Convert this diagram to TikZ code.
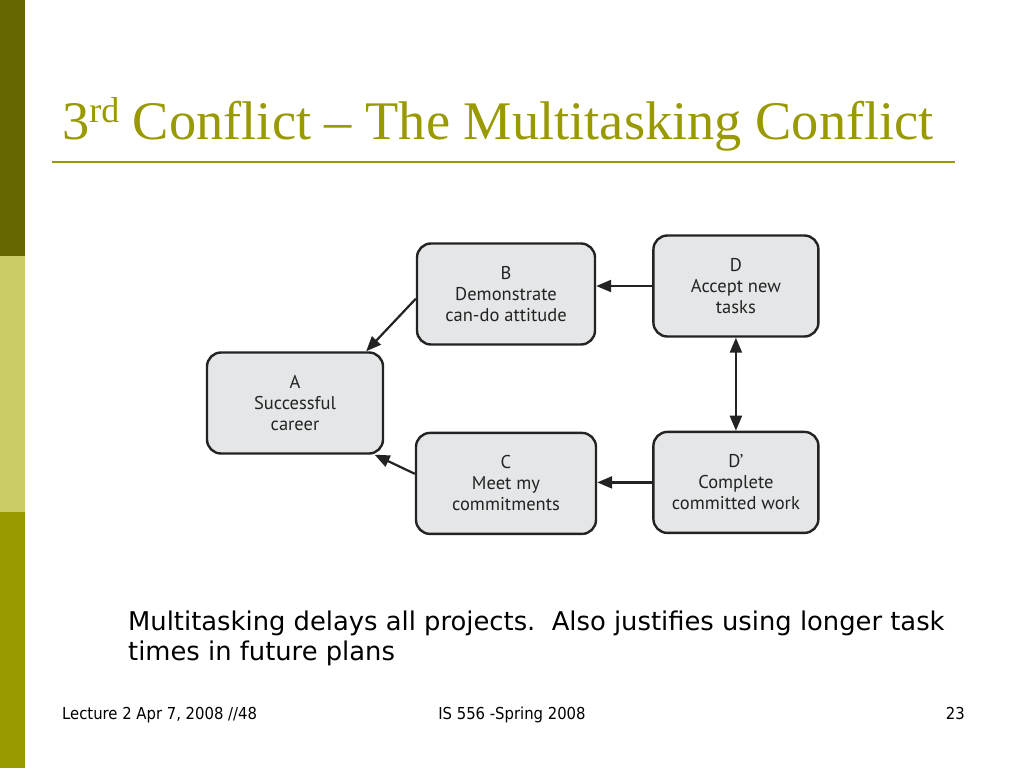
\documentclass[tikz,border=0pt]{standalone}
\usepackage{fontspec}
\setmainfont{Liberation Serif}
\newfontfamily\boxfont{PT Sans}
\newfontfamily\bodyfont{DejaVu Sans}
\newfontfamily\footfont{DejaVu Sans Condensed}
\usetikzlibrary{calc}
\usetikzlibrary{positioning}
\usetikzlibrary{arrows.meta}
\definecolor{bardark}{RGB}{102,102,0}
\definecolor{barlight}{RGB}{204,204,102}
\definecolor{barmid}{RGB}{153,153,0}
\definecolor{titleolive}{RGB}{153,153,0}
\definecolor{boxfill}{RGB}{228,230,231}
\definecolor{boxedge}{RGB}{35,35,35}
\definecolor{boxtext}{RGB}{35,35,35}

\begin{document}
\begin{tikzpicture}[x=1pt,y=-1pt,
    every node/.style={inner sep=0pt},
    box/.style={draw=boxedge, fill=boxfill, line width=2.4pt, rounded corners=14pt,
      minimum height=101pt, align=center, text=boxtext,
      font=\boxfont\fontsize{18.5}{21}\selectfont},
    link/.style={draw=boxedge, line width=2.2pt, -{Triangle[length=15pt,width=12pt]}},
    footer/.style={font=\footfont\fontsize{16.5}{18}\selectfont}
  ]
  \useasboundingbox[fill=white] (0,0) rectangle (1024,768);
  \fill[bardark] (0,0) rectangle (25,256);
  \fill[barlight] (0,256) rectangle (25,512);
  \fill[barmid] (0,512) rectangle (25,768);

  \node[anchor=base west, text=titleolive, font=\fontsize{54.4}{60}\selectfont] (title) at (62,139)
    {3\raisebox{17pt}{\fontsize{36}{40}\selectfont rd} Conflict – The Multitasking Conflict};
  \draw[titleolive, line width=2pt] (52,162) -- (955,162);

  \node[box, minimum width=176pt] (A) at (295,403) {A\\Successful\\career};
  \node[box, minimum width=178pt] (B) at (506,294) {B\\Demonstrate\\can-do attitude};
  \node[box, minimum width=180pt, below=86pt of B] (C) {C\\Meet my\\commitments};
  \node[box, minimum width=165pt, right=56pt of B, yshift=8pt] (D) {D\\Accept new\\tasks};
  \node[box, minimum width=165pt, below=93pt of D] (Dp) {D’\\Complete\\committed work};

  \draw[link] (D.west) -- (D.west -| B.east);
  \draw[link] (Dp.west) -- (Dp.west -| C.east);
  \draw[link, {Triangle[length=15pt,width=12pt]}-{Triangle[length=15pt,width=12pt]}] (D.south) -- (Dp.north);
  \draw[link] (B.183) -- (A.36);
  \draw[link] (C.174) -- (A.-33);

  \node[anchor=base west, font=\bodyfont\fontsize{25.8}{30}\selectfont] (note1) at (128,630)
    {Multitasking delays all projects.\ \ Also justifies using longer task};
  \node[anchor=base west, font=\bodyfont\fontsize{25.8}{30}\selectfont] (note2) at ([yshift=-30pt]note1.base west)
    {times in future plans};

  \node[anchor=base west, footer] (ftleft) at (62,719) {Lecture 2 Apr 7, 2008 //48};
  \node[anchor=base, footer] (ftmid) at (512,719) {IS 556 -Spring 2008};
  \node[anchor=base east, footer] (ftright) at (965,719) {23};
\end{tikzpicture}
\end{document}
